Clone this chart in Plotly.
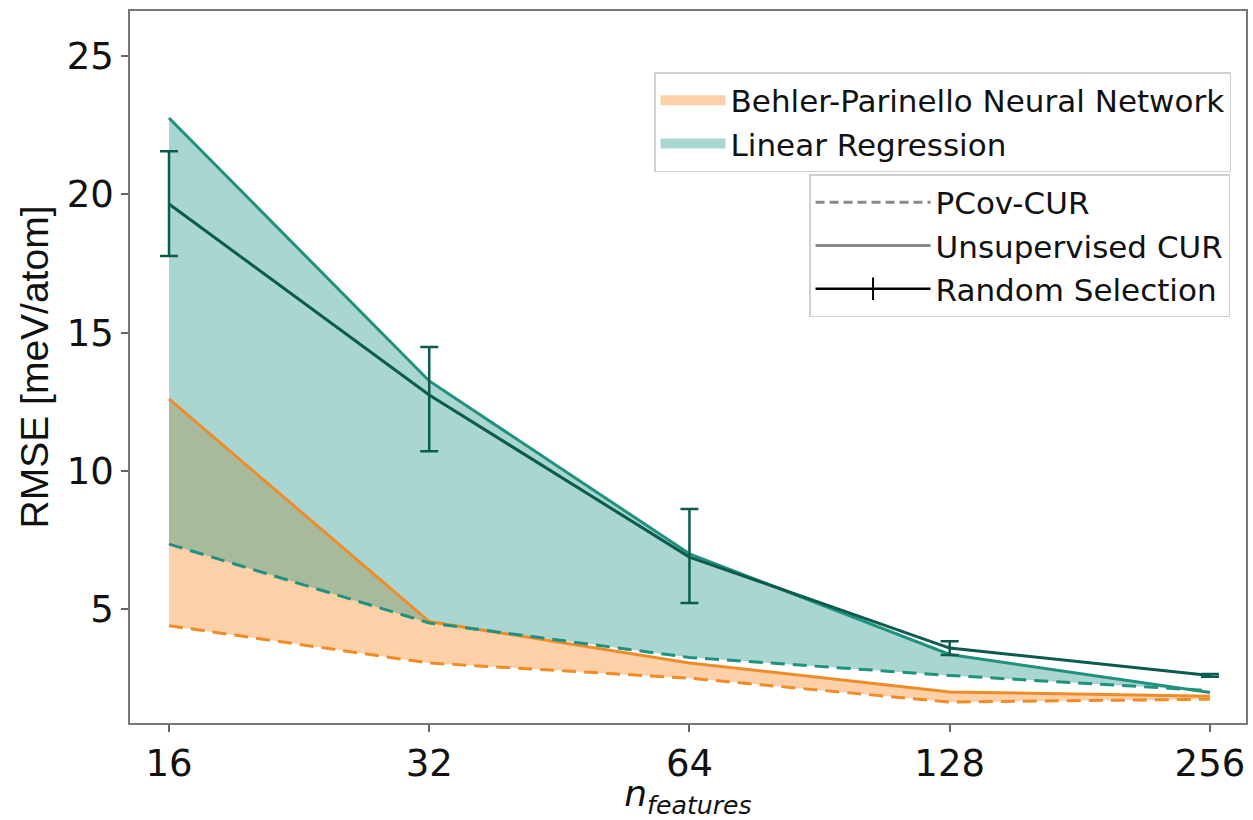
import plotly.graph_objects as go

n_features = [16, 32, 64, 128, 256]

# Linear regression
lr_unsup = [22.76, 13.25, 7.0, 3.36, 1.98]
lr_pcov = [7.35, 4.5, 3.25, 2.6, 2.05]
# Behler-Parinello NN
nn_unsup = [12.6, 4.55, 3.05, 2.0, 1.85]
nn_pcov = [4.4, 3.05, 2.5, 1.64, 1.74]
# Random selection (linear regression)
rand_mean = [19.65, 12.74, 6.88, 3.59, 2.6]
rand_err_plus = [1.91, 1.74, 1.74, 0.25, 0.05]
rand_err_minus = [1.88, 2.03, 1.66, 0.25, 0.05]

ORANGE = "#F08C28"
ORANGE_FILL = "rgba(250,138,38,0.40)"
ORANGE_PATCH = "#FDD0A8"
TEAL = "#21917F"
TEAL_FILL = "rgba(40,152,138,0.40)"
TEAL_PATCH = "#A9D6D0"
DARK = "#0B5C4E"
GREY = "#8A8A8A"

fig = go.Figure()

# fills (drawn first)
fig.add_trace(go.Scatter(x=n_features, y=nn_pcov, mode="lines", line=dict(width=0),
                         showlegend=False, hoverinfo="skip"))
fig.add_trace(go.Scatter(x=n_features, y=nn_unsup, mode="lines", line=dict(width=0),
                         fill="tonexty", fillcolor=ORANGE_FILL, showlegend=False))
fig.add_trace(go.Scatter(x=n_features, y=lr_pcov, mode="lines", line=dict(width=0),
                         showlegend=False, hoverinfo="skip"))
fig.add_trace(go.Scatter(x=n_features, y=lr_unsup, mode="lines", line=dict(width=0),
                         fill="tonexty", fillcolor=TEAL_FILL, showlegend=False))

# lines
fig.add_trace(go.Scatter(x=n_features, y=nn_pcov, mode="lines",
                         line=dict(color=ORANGE, width=3, dash="14px,8px"), showlegend=False))
fig.add_trace(go.Scatter(x=n_features, y=nn_unsup, mode="lines",
                         line=dict(color=ORANGE, width=3), showlegend=False))
fig.add_trace(go.Scatter(x=n_features, y=lr_pcov, mode="lines",
                         line=dict(color=TEAL, width=3, dash="14px,8px"), showlegend=False))
fig.add_trace(go.Scatter(x=n_features, y=lr_unsup, mode="lines",
                         line=dict(color=TEAL, width=3), showlegend=False))
fig.add_trace(go.Scatter(x=n_features, y=rand_mean, mode="lines",
                         line=dict(color=DARK, width=3), showlegend=False,
                         error_y=dict(type="data", array=rand_err_plus, arrayminus=rand_err_minus,
                                      color=DARK, thickness=2.5, width=9)))

# model legend entries (patches)
fig.add_trace(go.Scatter(x=[None], y=[None], mode="lines",
                         line=dict(color=ORANGE_PATCH, width=18),
                         name="Behler-Parinello Neural Network", legend="legend"))
fig.add_trace(go.Scatter(x=[None], y=[None], mode="lines",
                         line=dict(color=TEAL_PATCH, width=18),
                         name="Linear Regression", legend="legend"))

# style legend entries
fig.add_trace(go.Scatter(x=[None], y=[None], mode="lines", name="PCov-CUR",
                         line=dict(color=GREY, width=3, dash="9px,5px"), legend="legend2"))
fig.add_trace(go.Scatter(x=[None], y=[None], mode="lines", name="Unsupervised CUR",
                         line=dict(color=GREY, width=3), legend="legend2"))
fig.add_trace(go.Scatter(x=[None], y=[None], mode="lines+markers", name="Random Selection",
                         line=dict(color="black", width=2.5),
                         marker=dict(symbol="line-ns-open", size=24,
                                     line=dict(color="black", width=2)),
                         legend="legend2"))

LEG_FONT = dict(family="DejaVu Sans", size=31, color="#111")

fig.update_layout(
    width=1253, height=820,
    margin=dict(l=130, r=5, t=11, b=97),
    paper_bgcolor="white", plot_bgcolor="white",
    showlegend=True,
    legend=dict(x=0.9866, y=0.9143, xanchor="right", yanchor="top",
                bgcolor="white", bordercolor="#D0D0D0", borderwidth=1.5,
                font=LEG_FONT, tracegroupgap=0, itemwidth=65, traceorder="normal"),
    legend2=dict(x=0.9857, y=0.771, xanchor="right", yanchor="top",
                 bgcolor="white", bordercolor="#D0D0D0", borderwidth=1.5,
                 font=LEG_FONT, tracegroupgap=0, itemwidth=115, traceorder="normal"),
)

fig.update_xaxes(
    type="log", range=[1.159, 2.450],
    tickvals=n_features, ticktext=[str(v) for v in n_features],
    ticks="outside", ticklen=7, tickwidth=1.5, tickcolor="#666",
    showline=True, linecolor="#777", linewidth=1.5, mirror=True,
    showgrid=False, zeroline=False,
    tickfont=dict(family="DejaVu Sans", size=37, color="#111"),
    title=dict(text="<i>n</i><sub><i>features</i></sub>",
               font=dict(family="DejaVu Sans", size=36, color="#111"), standoff=2),
)
fig.update_yaxes(
    range=[0.88, 26.63],
    tickvals=[5, 10, 15, 20, 25],
    ticks="outside", ticklen=7, tickwidth=1.5, tickcolor="#666",
    showline=True, linecolor="#777", linewidth=1.5, mirror=True,
    showgrid=False, zeroline=False,
    tickfont=dict(family="DejaVu Sans", size=37, color="#111"),
    title=dict(text="RMSE [meV/atom]",
               font=dict(family="Liberation Sans, Arial", size=39, color="#111"), standoff=6),
)

fig.write_html("out.html")
